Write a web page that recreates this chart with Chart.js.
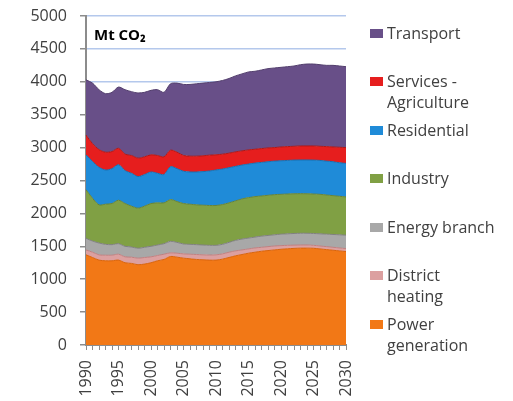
<!DOCTYPE html>
<html>
<head>
<meta charset="utf-8">
<script src="https://cdn.jsdelivr.net/npm/chart.js"></script>
<style>
  html, body { margin: 0; padding: 0; background: #fff; }
  #wrap { position: relative; width: 513px; height: 401px; }
  #myChart { position: absolute; left: 0; top: 0; }
  #unit { position: absolute; left: 94px; top: 24px; font: bold 15px 'Open Sans'; color: #000; }
  #legend { position: absolute; left: 370px; top: 0; font: 16px 'Open Sans'; color: #404040; }
  .item { position: absolute; left: 0; white-space: pre-line; line-height: 21px; width: 140px; }
  .sw { position: absolute; left: 0; top: 6px; width: 13px; height: 9px; }
  .txt { position: absolute; left: 17px; top: 0; width: 130px; }
</style>
</head>
<body>
<div id="wrap">
  <canvas id="myChart" width="513" height="401"></canvas>
  <div id="unit">Mt CO₂</div>
  <div id="legend"></div>
</div>
<script>
  const years = [
    '1990','1991','1992','1993','1994','1995','1996','1997','1998','1999',
    '2000','2001','2002','2003','2004','2005','2006','2007','2008','2009',
    '2010','2011','2012','2013','2014','2015','2016','2017','2018','2019',
    '2020','2021','2022','2023','2024','2025','2026','2027','2028','2029',
    '2030'
  ];
  const tickYears = ['1990','1995','2000','2005','2010','2015','2020','2025','2030'];

  // Mt CO2 per sector, bottom to top
  const power = [1370,1330,1290,1280,1280,1290,1250,1240,1220,1230,
    1250,1280,1300,1345,1335,1320,1310,1300,1295,1290,
    1290,1305,1330,1355,1375,1395,1410,1425,1435,1445,
    1455,1462,1468,1472,1472,1470,1460,1450,1440,1430,
    1420];
  const district = [75,80,80,85,85,90,90,95,100,100,
    90,80,80,55,60,65,70,75,75,78,
    80,80,80,75,70,65,65,60,60,60,
    55,53,50,48,48,45,45,45,45,45,
    45];
  const energy = [175,170,180,165,160,160,160,155,150,155,
    160,160,160,175,165,150,150,150,150,147,
    145,145,150,160,165,165,165,170,170,170,
    175,175,177,178,178,180,185,190,195,200,
    205];
  const industry = [740,650,580,610,625,660,650,620,610,625,
    650,640,620,635,620,615,610,605,605,605,
    605,605,600,600,610,615,615,610,610,610,
    605,605,603,602,600,600,600,595,590,585,
    580];
  const residential = [530,560,570,520,530,540,500,500,480,480,
    480,450,430,500,500,490,490,500,510,525,
    540,540,535,525,515,510,510,510,510,510,
    510,510,512,512,514,515,515,515,515,510,
    510];
  const services = [300,270,270,270,260,250,250,270,280,270,
    260,270,270,250,250,240,240,240,240,240,
    230,225,220,220,215,215,210,210,210,205,
    210,210,210,213,213,215,215,220,225,235,
    240];
  const transport = [840,920,910,890,900,930,980,970,990,980,
    980,1000,980,1010,1050,1080,1090,1100,1105,1105,
    1110,1120,1135,1155,1170,1185,1185,1195,1205,1210,
    1210,1215,1220,1235,1245,1245,1240,1235,1240,1235,
    1230];

  const series = [
    { label: 'Power\ngeneration', data: power, color: '#f27816', edge: '#d8640e' },
    { label: 'District\nheating', data: district, color: '#dca0a0', edge: '#c08080' },
    { label: 'Energy branch', data: energy, color: '#a8a8a8', edge: '#808080' },
    { label: 'Industry', data: industry, color: '#80a044', edge: '#66843a' },
    { label: 'Residential', data: residential, color: '#1f8bd8', edge: '#1a6fb0' },
    { label: 'Services -\nAgriculture', data: services, color: '#e61e1e', edge: '#b01818' },
    { label: 'Transport', data: transport, color: '#684f88', edge: '#54406e' }
  ];

  Chart.defaults.font.family = "'Open Sans'";
  Chart.defaults.font.size = 16;
  Chart.defaults.color = '#404040';

  const data = {
    labels: years,
    datasets: series.map((s, i) => ({
      label: s.label,
      data: s.data,
      backgroundColor: s.color,
      borderColor: s.edge,
      borderWidth: 1,
      pointRadius: 0,
      tension: 0.3,
      fill: i === 0 ? 'origin' : '-1'
    }))
  };

  const config = {
    type: 'line',
    data: data,
    options: {
      responsive: false,
      animation: false,
      layout: { padding: { left: 0, right: 167, top: 16, bottom: 0 } },
      plugins: { legend: { display: false }, tooltip: { enabled: false } },
      scales: {
        x: {
          grid: { drawOnChartArea: false, tickLength: 5, color: '#8c8c8c' },
          border: { color: '#8c8c8c', width: 2 },
          ticks: {
            autoSkip: false,
            minRotation: 90,
            maxRotation: 90,
            padding: 10,
            callback: function (v) {
              const y = this.getLabelForValue(v);
              return tickYears.includes(y) ? y : '';
            }
          },
          afterFit: (scale) => { scale.height = 56; scale.paddingLeft = 0; scale.paddingRight = 0; }
        },
        y: {
          stacked: true,
          min: 0,
          max: 5000,
          ticks: { stepSize: 500, padding: 13, callback: (v) => String(v) },
          grid: { color: '#b4c8ec', lineWidth: 1.5, tickLength: 6, tickColor: '#8c8c8c' },
          border: { color: '#8c8c8c', width: 2 },
          afterFit: (scale) => { scale.width = 86; scale.paddingTop = 0; scale.paddingBottom = 0; }
        }
      }
    }
  };

  const myChart = new Chart(document.getElementById('myChart'), config);

  // legend, top to bottom = Transport ... Power generation
  const legend = document.getElementById('legend');
  series.slice().reverse().forEach((s, i) => {
    const item = document.createElement('div');
    item.className = 'item';
    item.style.top = (33 + i * 48.5 - 10.5) + 'px';
    item.innerHTML = '<div class="sw" style="background:' + s.color + '"></div><div class="txt"></div>';
    item.querySelector('.txt').textContent = s.label;
    legend.appendChild(item);
  });
</script>
</body>
</html>
